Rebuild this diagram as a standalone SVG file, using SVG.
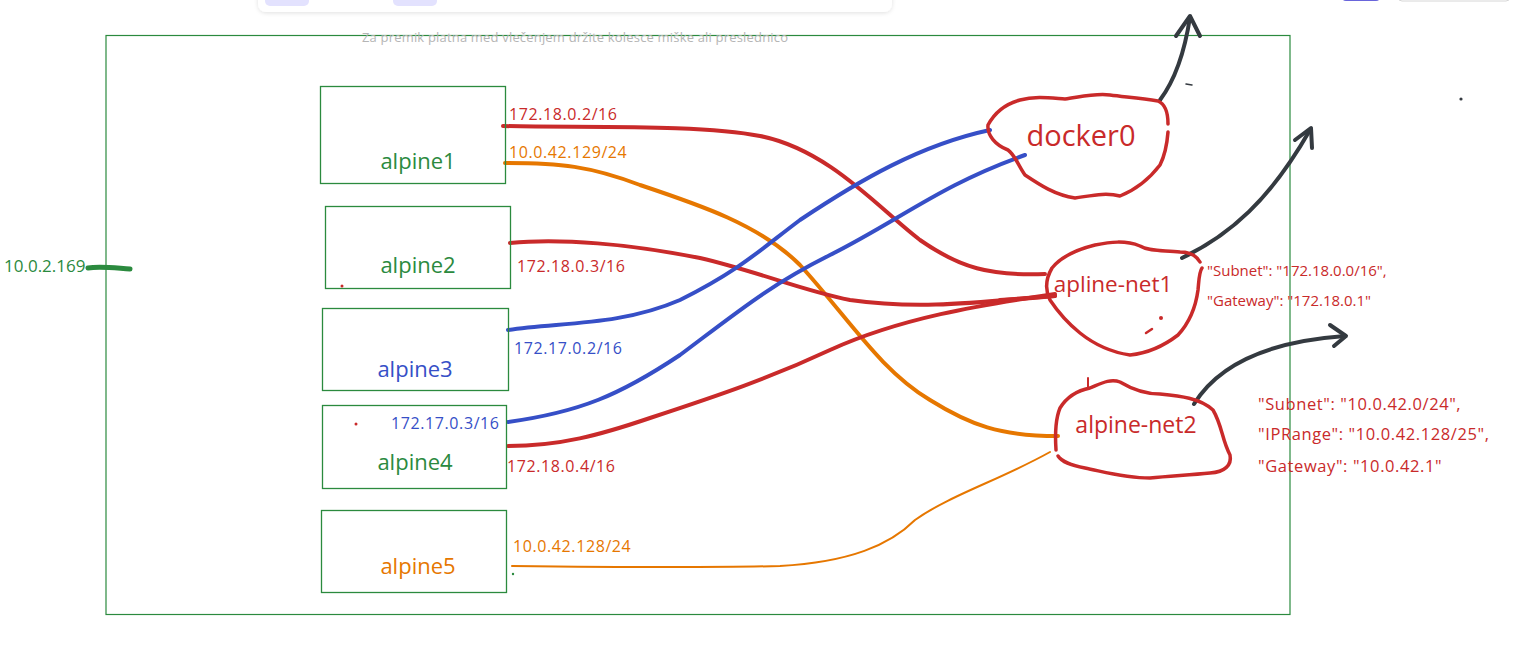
<svg xmlns="http://www.w3.org/2000/svg" width="1515" height="663" viewBox="0 0 1515 663">
<defs>
<style>
.t{font-family:"Open Sans","Liberation Sans",sans-serif}
.box{fill:none;stroke:#2b8a3e;stroke-width:1.3}
.lbl{font-size:22px;text-anchor:middle}
.ip{font-size:16px;letter-spacing:0.6px}
.cl{fill:none;stroke:#c92a2a;stroke-width:3.5;stroke-linecap:round;stroke-linejoin:round}
.w{fill:none;stroke-linecap:round;stroke-linejoin:round}
.red{stroke:#c92a2a;stroke-width:4}
.blue{stroke:#364fc7;stroke-width:4}
.or{stroke:#e67700;stroke-width:4}
.dark{stroke:#343a40;stroke-width:4}
.g{fill:#2b8a3e}.r{fill:#c92a2a}.b{fill:#364fc7}.o{fill:#e67700}
</style>
<filter id="sh" x="-10%" y="-50%" width="120%" height="200%"><feDropShadow dx="0" dy="1" stdDeviation="2" flood-color="#000" flood-opacity="0.12"/></filter>
</defs>
<rect width="1515" height="663" fill="#ffffff"/>
<g id="ui">
<rect x="258" y="-12" width="634" height="24" rx="8" fill="#fff" filter="url(#sh)"/>
<rect x="265" y="-10" width="44" height="16" rx="5" fill="#e3e2fe"/>
<rect x="393" y="-10" width="44" height="16" rx="5" fill="#e3e2fe"/>
<rect x="1342" y="-10" width="38" height="11" rx="4" fill="#6965db"/>
<rect x="1398" y="-10" width="112" height="11" rx="4" fill="#fff" stroke="#d6d6d6"/>
</g>
<g id="frame">
<rect x="106" y="35.5" width="1184" height="579" fill="none" stroke="#2b8a3e" stroke-width="1.2"/>
</g>
<text class="t" x="575" y="42" font-size="13" fill="#b5b5b5" text-anchor="middle" textLength="426">Za premik platna med vlečenjem držite kolesce miške ali preslednico</text>
<g id="connectors">
<path class="w red" d="M503,126 C580,128 700,124 760,136 C830,150 880,210 920,240 C960,268 990,276 1045,274"/>
<path class="w or" d="M505,163 C560,163 590,166 640,185 C700,205 760,225 800,265 C850,320 880,370 930,400 C970,425 1000,436 1058,436"/>
<path class="w red" d="M510,243 C560,238 630,244 700,258 C760,272 800,290 850,300 C920,310 980,302 1055,296"/>
<path class="w blue" d="M508,330 C560,322 620,326 680,300 C740,270 760,250 800,220 C860,180 920,145 990,130"/>
<path class="w blue" d="M508,422 C580,412 620,395 680,355 C740,310 770,285 830,255 C900,220 940,185 1025,155"/>
<path class="w red" d="M508,446 C560,446 600,435 650,418 C720,395 770,378 830,350 C900,318 980,305 1055,294"/>
<path class="w red" d="M1000,300 L1055,296" stroke-width="6"/>
<path class="w" stroke="#e67700" stroke-width="2" d="M512,566 C600,567 700,568 780,566 C850,562 890,545 915,520 C950,495 1000,480 1050,452"/>
<path class="w dark" d="M1160,100 C1175,80 1185,50 1190,17"/>
<path class="w dark" d="M1176,36 L1190,16 L1200,36"/>
<path class="w dark" d="M1182,258 C1230,235 1270,200 1310,130"/>
<path class="w dark" d="M1295,140 L1311,128 L1312,148"/>
<path class="w dark" d="M1194,404 C1215,370 1260,342 1345,336"/>
<path class="w dark" d="M1330,325 L1346,336 L1334,346"/>
</g>
<g id="alpine1">
<rect class="box" x="320.5" y="86.5" width="185" height="97"/>
<text class="t lbl g" x="418" y="169">alpine1</text>
<text class="t ip r" x="509" y="120">172.18.0.2/16</text>
<text class="t ip o" x="509" y="158">10.0.42.129/24</text>
</g>
<g id="alpine2">
<rect class="box" x="325.5" y="206.5" width="185" height="82"/>
<text class="t lbl g" x="418" y="273">alpine2</text>
<text class="t ip r" x="517" y="272">172.18.0.3/16</text>
<circle cx="342" cy="286" r="1.5" fill="#c92a2a"/>
</g>
<g id="alpine3">
<rect class="box" x="322.5" y="308.5" width="186" height="82"/>
<text class="t lbl b" x="415" y="377">alpine3</text>
<text class="t ip b" x="514" y="354">172.17.0.2/16</text>
</g>
<g id="alpine4">
<rect class="box" x="322.5" y="405.5" width="184" height="83"/>
<text class="t lbl g" x="415" y="470">alpine4</text>
<text class="t ip b" x="391" y="429">172.17.0.3/16</text>
<text class="t ip r" x="507" y="472">172.18.0.4/16</text>
<circle cx="356" cy="424" r="1.5" fill="#c92a2a"/>
</g>
<g id="alpine5">
<rect class="box" x="321.5" y="510.5" width="185" height="82"/>
<text class="t lbl o" x="418" y="574">alpine5</text>
<text class="t ip o" x="513" y="552">10.0.42.128/24</text>
<circle cx="513" cy="574" r="1.2" fill="#2b8a3e"/>
</g>
<g id="host">
<text class="t g" x="4" y="272" font-size="17">10.0.2.169</text>
<path d="M88,268 C100,266 115,268 130,269" fill="none" stroke="#2b8a3e" stroke-width="5" stroke-linecap="round"/>
</g>
<g id="docker0">
<path class="cl" d="M1168,124 C1168,112 1165,104 1158,101 C1140,98 1125,97 1110,95 C1095,93 1080,97 1065,99 C1050,98 1035,96 1020,100 C1005,104 995,112 988,125 C987,135 995,145 1008,150 C1015,155 1018,165 1025,175 C1040,185 1055,195 1075,198 C1090,196 1105,192 1120,196 C1135,190 1150,178 1160,165 C1165,155 1167,145 1168,132"/>
<text class="t r" x="1081" y="146" font-size="29" text-anchor="middle">docker0</text>
</g>
<g id="apline-net1">
<path class="cl" d="M1200,262 C1196,255 1190,252 1180,252 C1165,250 1150,252 1140,246 C1125,240 1110,242 1095,245 C1075,250 1060,258 1052,268 C1045,280 1045,290 1050,300 C1060,315 1070,325 1080,333 C1095,345 1110,352 1130,355 C1150,353 1165,345 1178,335 C1190,322 1196,305 1198,290 C1199,280 1199,272 1202,268"/>
<text class="t r" x="1113" y="292" font-size="22.5" text-anchor="middle">apline-net1</text>
<circle cx="1161" cy="318" r="2" fill="#c92a2a"/>
<path d="M1146,333 L1152,329" stroke="#c92a2a" stroke-width="2.5" stroke-linecap="round"/>
<text class="t r" x="1207" y="276" font-size="15">"Subnet": "172.18.0.0/16",</text>
<text class="t r" x="1207" y="306" font-size="15">"Gateway": "172.18.0.1"</text>
</g>
<g id="alpine-net2">
<path class="cl" d="M1056,450 C1055,435 1055,420 1060,408 C1068,395 1080,390 1090,388 C1100,384 1110,378 1120,382 C1130,388 1145,394 1160,394 C1180,396 1200,398 1213,410 C1222,425 1222,440 1230,455 C1232,465 1225,472 1210,473 C1190,475 1170,476 1150,478 C1125,478 1105,472 1085,468 C1070,465 1062,462 1058,456"/>
<path d="M1088,378 L1088,388" stroke="#c92a2a" stroke-width="2" stroke-linecap="round"/>
<text class="t r" x="1136" y="433" font-size="23" text-anchor="middle">alpine-net2</text>
<text class="t r" x="1258" y="410" font-size="16.5" letter-spacing="0.6">"Subnet": "10.0.42.0/24",</text>
<text class="t r" x="1258" y="440" font-size="16.5" letter-spacing="0.6">"IPRange": "10.0.42.128/25",</text>
<text class="t r" x="1258" y="472" font-size="16.5" letter-spacing="0.6">"Gateway": "10.0.42.1"</text>
</g>
<g id="marks">
<path d="M1186,84 L1192,85" stroke="#343a40" stroke-width="1.5" stroke-linecap="round"/>
<circle cx="1461" cy="99" r="1.6" fill="#343a40"/>
</g>
</svg>
